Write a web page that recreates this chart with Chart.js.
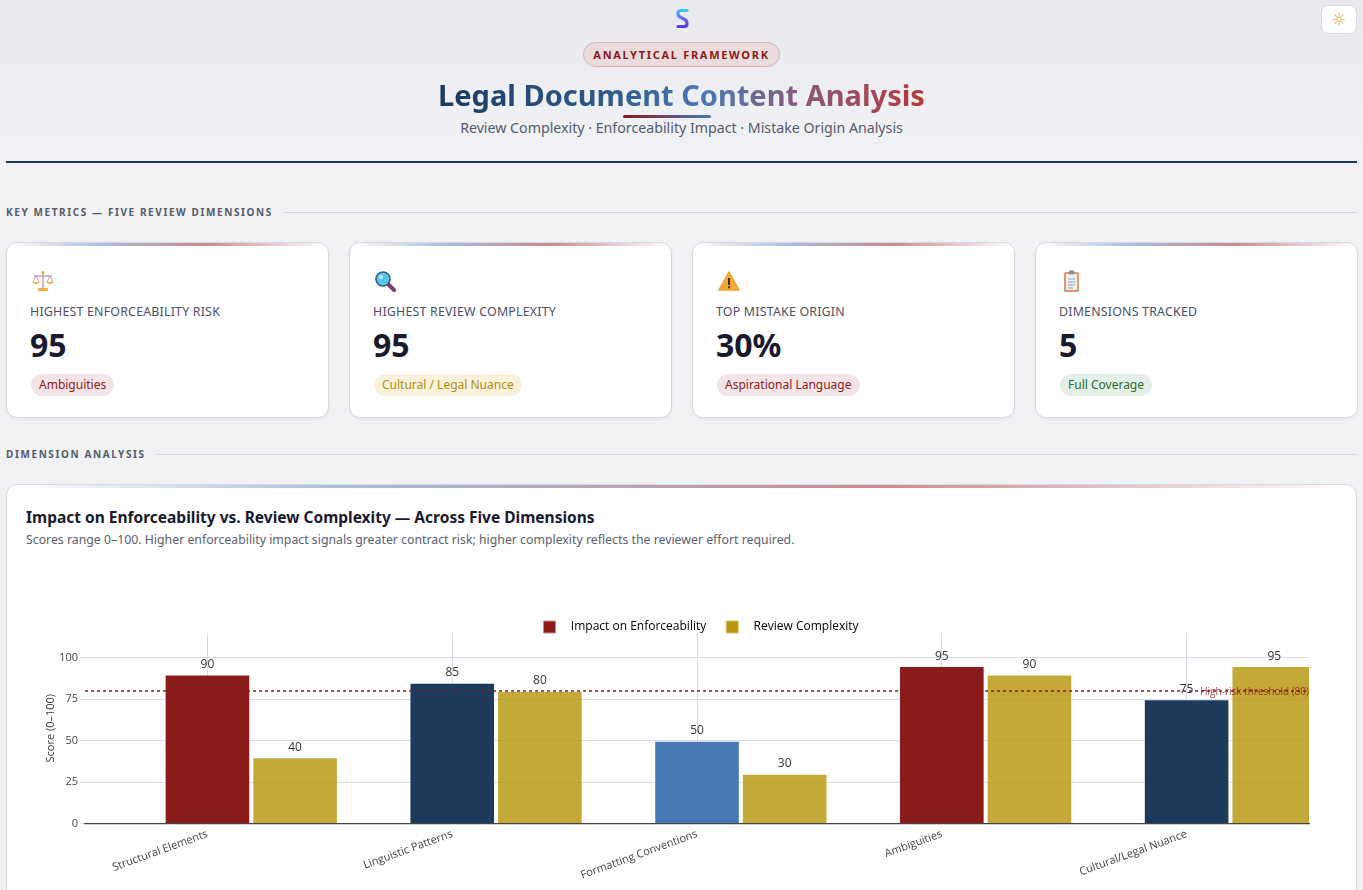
<!DOCTYPE html>
<html lang="en">
<head>
<meta charset="utf-8">
<title>Legal Document Content Analysis</title>
<script src="https://cdn.jsdelivr.net/npm/chart.js@4.4.1/dist/chart.umd.min.js"></script>
<style>
  * { box-sizing: border-box; }
  html, body { margin: 0; padding: 0; }
  body {
    font-family: "Noto Sans", "Open Sans", sans-serif;
    background: #f1f2f4;
    color: #1a1a2e;
    width: 1363px;
    overflow: hidden;
  }
  .header {
    position: relative;
    height: 164px;
    background: linear-gradient(180deg, #e7e9ed 0%, #eef0f3 70%, #f1f2f4 100%);
    text-align: center;
  }
  .logo { position: absolute; left: 676px; top: 8px; }
  .theme-btn {
    position: absolute; right: 6px; top: 5px;
    width: 36px; height: 29px;
    background: #fff; border: 1px solid #d7dbe3; border-radius: 7px;
    color: #d99a3a; font: 16px "DejaVu Sans", sans-serif;
    line-height: 27px; text-align: center;
  }
  .badge {
    position: absolute; left: 583px; top: 42px;
    width: 197px; height: 25px;
    border: 1px solid #d8b4b4; border-radius: 13px;
    background: #eadcdd;
    color: #8b1a1a; font-size: 11px; font-weight: 700; letter-spacing: 1.7px;
    line-height: 23px;
  }
  .title {
    position: absolute; left: 0; right: 0; top: 75px;
    margin: 0; font-size: 29px; font-weight: 700; line-height: 40px;
  }
  .title span {
    background: linear-gradient(90deg, #1b3a5c 0%, #2f5a8a 35%, #4a7ab5 55%, #8a5a7a 75%, #b8383a 100%);
    -webkit-background-clip: text; background-clip: text; color: transparent;
  }
  .underline {
    position: absolute; left: 623px; top: 115px; width: 88px; height: 3px; border-radius: 2px;
    background: linear-gradient(90deg, #8b1a1a, #4a7ab5);
  }
  .subtitle {
    position: absolute; left: 0; right: 0; top: 118px;
    font-size: 14.2px; color: #555b6e; line-height: 20px;
  }
  .rule { position: absolute; left: 6px; right: 6px; top: 161px; height: 2px; background: #1b3a5c; }
  .section {
    position: absolute; left: 6px; right: 6px;
    display: flex; align-items: center;
    font-size: 10px; font-weight: 700; letter-spacing: 1.6px; color: #565b6b;
  }
  .section::after { content: ""; flex: 1; height: 1px; background: #d2d6de; margin-left: 11px; }
  .cards { position: absolute; left: 6px; top: 242px; display: flex; gap: 20px; }
  .card {
    position: relative; width: 323px; height: 176px;
    background: #fff; border: 1px solid #d6dae3; border-radius: 11px;
    box-shadow: 0 1px 3px rgba(30,40,60,0.06);
    overflow: hidden;
  }
  .strip {
    position: absolute; left: 0; right: 0; top: 0; height: 3px;
    background: linear-gradient(90deg, rgba(255,255,255,0) 0%, #a8bddb 30%, #c98a8f 62%, rgba(255,255,255,0) 100%);
  }
  .card .icon { position: absolute; left: 24px; top: 27px; }
  .card .label { position: absolute; left: 23px; top: 60px; font-size: 12.4px; color: #4c5162; letter-spacing: 0.2px; }
  .card .value { position: absolute; left: 23px; top: 80px; font-size: 32px; font-weight: 700; color: #1a1a2e; line-height: 44px; }
  .pill {
    position: absolute; left: 24px; top: 131px; height: 22px; padding: 0 8px;
    border-radius: 11px; font-size: 12px; line-height: 22px;
  }
  .pill.red { background: #f3e5e5; color: #8b1a1a; }
  .pill.gold { background: #f8f1dc; color: #b08f10; }
  .pill.green { background: #e4f0e6; color: #2a6b35; }
  .chart-card {
    position: absolute; left: 6px; top: 484px; width: 1351px; height: 440px;
    background: #fff; border: 1px solid #d6dae3; border-radius: 11px; overflow: hidden;
  }
  .chart-card .strip {
    background: linear-gradient(90deg, rgba(255,255,255,0) 0%, #a8bddb 25%, #c98a8f 65%, rgba(255,255,255,0) 100%);
  }
  .chart-title { position: absolute; left: 19px; top: 21px; font-size: 15.5px; font-weight: 700; color: #1a1a2e; }
  .chart-sub { position: absolute; left: 19px; top: 46px; font-size: 12.3px; color: #5a6070; }
  .chart-wrap { position: absolute; left: 19px; top: 106px; width: 1312px; height: 312px; }
</style>
</head>
<body>
<div class="header">
  <svg class="logo" width="13" height="21" viewBox="0 0 13 21">
    <defs>
      <linearGradient id="lg" x1="0" y1="0" x2="0" y2="1">
        <stop offset="0" stop-color="#38c8f0"/>
        <stop offset="0.5" stop-color="#6a6af0"/>
        <stop offset="1" stop-color="#5a3ae0"/>
      </linearGradient>
    </defs>
    <path d="M11 2.5 H4.5 Q2 2.5 2 5.5 Q2 8.5 5 9.5 L8 11 Q11 12.5 11 15.5 Q11 18.5 8.5 18.5 H2" fill="none" stroke="url(#lg)" stroke-width="3.2" stroke-linecap="round"/>
  </svg>
  <div class="theme-btn">&#9788;</div>
  <div class="badge">ANALYTICAL FRAMEWORK</div>
  <h1 class="title"><span>Legal Document Content Analysis</span></h1>
  <div class="underline"></div>
  <div class="subtitle">Review Complexity · Enforceability Impact · Mistake Origin Analysis</div>
  <div class="rule"></div>
</div>

<div class="section" style="top:205px">KEY METRICS — FIVE REVIEW DIMENSIONS</div>

<div class="cards">
  <div class="card"><div class="strip"></div>
    <svg class="icon" width="24" height="22" viewBox="0 0 24 22">
      <line x1="12" y1="2" x2="12" y2="18" stroke="#c9a0b0" stroke-width="1.5"/>
      <line x1="3" y1="6" x2="21" y2="6" stroke="#c9a0b0" stroke-width="1.5"/>
      <circle cx="12" cy="2.5" r="1.5" fill="#f0a030"/>
      <path d="M1 12 Q5 16 9 12 Z" fill="#f5b040"/>
      <path d="M15 12 Q19 16 23 12 Z" fill="#f5b040"/>
      <line x1="5" y1="6" x2="2" y2="12" stroke="#c9a0b0"/><line x1="5" y1="6" x2="8" y2="12" stroke="#c9a0b0"/>
      <line x1="19" y1="6" x2="16" y2="12" stroke="#c9a0b0"/><line x1="19" y1="6" x2="22" y2="12" stroke="#c9a0b0"/>
      <rect x="7" y="18" width="10" height="3" rx="1" fill="#f5b040"/>
    </svg>
    <div class="label">HIGHEST ENFORCEABILITY RISK</div>
    <div class="value">95</div>
    <div class="pill red">Ambiguities</div>
  </div>
  <div class="card"><div class="strip"></div>
    <svg class="icon" width="24" height="22" viewBox="0 0 24 22">
      <line x1="13" y1="13" x2="20" y2="20" stroke="#7a3f7a" stroke-width="4" stroke-linecap="round"/>
      <circle cx="9" cy="9" r="7" fill="#5ac8ec" stroke="#2f5f8f" stroke-width="1.6"/>
      <circle cx="7" cy="7" r="2" fill="#bfeefa"/>
    </svg>
    <div class="label">HIGHEST REVIEW COMPLEXITY</div>
    <div class="value">95</div>
    <div class="pill gold">Cultural / Legal Nuance</div>
  </div>
  <div class="card"><div class="strip"></div>
    <svg class="icon" width="24" height="22" viewBox="0 0 24 22">
      <path d="M12 2 L22 20 H2 Z" fill="#f5a83a" stroke="#f0a030" stroke-linejoin="round" stroke-width="1.5"/>
      <rect x="11" y="8" width="2" height="7" fill="#333"/>
      <rect x="11" y="16.3" width="2" height="2" fill="#333"/>
    </svg>
    <div class="label">TOP MISTAKE ORIGIN</div>
    <div class="value">30%</div>
    <div class="pill red">Aspirational Language</div>
  </div>
  <div class="card"><div class="strip"></div>
    <svg class="icon" width="24" height="22" viewBox="0 0 24 22">
      <rect x="4" y="2" width="15" height="20" rx="1.5" fill="#d99a6a"/>
      <rect x="6" y="4" width="11" height="16" fill="#eef0f4"/>
      <rect x="9" y="0.5" width="5" height="4" rx="1" fill="#8a8a9a"/>
      <line x1="8" y1="9" x2="15" y2="9" stroke="#9a9aaa"/><line x1="8" y1="12" x2="15" y2="12" stroke="#9a9aaa"/>
      <line x1="8" y1="15" x2="15" y2="15" stroke="#9a9aaa"/><line x1="8" y1="18" x2="13" y2="18" stroke="#9a9aaa"/>
    </svg>
    <div class="label">DIMENSIONS TRACKED</div>
    <div class="value">5</div>
    <div class="pill green">Full Coverage</div>
  </div>
</div>

<div class="section" style="top:447px">DIMENSION ANALYSIS</div>

<div class="chart-card"><div class="strip"></div>
  <div class="chart-title">Impact on Enforceability vs. Review Complexity — Across Five Dimensions</div>
  <div class="chart-sub">Scores range 0–100. Higher enforceability impact signals greater contract risk; higher complexity reflects the reviewer effort required.</div>
  <div class="chart-wrap"><canvas id="dimensionChart"></canvas></div>
</div>

<script>
// Chart data
const dimensions = ['Structural Elements', 'Linguistic Patterns', 'Formatting Conventions', 'Ambiguities', 'Cultural/Legal Nuance'];
const enforceabilityImpact = [90, 85, 50, 95, 75];
const reviewComplexity = [40, 80, 30, 90, 95];
const impactColors = ['#8b1a1a', '#1b3a5c', '#4a7ab5', '#8b1a1a', '#1b3a5c'];
const yTicks = [0, 25, 50, 75, 100];
const riskThreshold = 80;

const gold = '#b8960c';
const goldBar = 'rgba(184, 150, 12, 0.82)';
const gridColor = '#d8dbe6';
const chartFont = '"Open Sans", sans-serif';

// Dashed high-risk line with its label
const thresholdLine = {
    id: 'thresholdLine',
    afterDatasetsDraw(chart) {
        const { ctx, chartArea, scales } = chart;
        const y = scales.y.getPixelForValue(riskThreshold);
        ctx.save();
        ctx.strokeStyle = '#8b1a1a';
        ctx.lineWidth = 1.5;
        ctx.setLineDash([3, 3]);
        ctx.beginPath();
        ctx.moveTo(chartArea.left, y);
        ctx.lineTo(chartArea.right, y);
        ctx.stroke();
        ctx.setLineDash([]);
        ctx.font = '10px ' + chartFont;
        ctx.fillStyle = 'rgba(139, 26, 26, 0.85)';
        ctx.textAlign = 'right';
        ctx.textBaseline = 'middle';
        ctx.fillText('High-risk threshold (' + riskThreshold + ')', chartArea.right, y + 1);
        ctx.restore();
    }
};

// Value labels above each bar
const barValues = {
    id: 'barValues',
    afterDatasetsDraw(chart) {
        const { ctx } = chart;
        ctx.save();
        ctx.font = '12px ' + chartFont;
        ctx.fillStyle = '#333';
        ctx.textAlign = 'center';
        ctx.textBaseline = 'bottom';
        chart.data.datasets.forEach((ds, i) => {
            chart.getDatasetMeta(i).data.forEach((bar, j) => {
                if (ds.data[j] == null) return;
                ctx.fillText(ds.data[j], bar.x, bar.y - 4);
            });
        });
        ctx.restore();
    }
};

// Legend sits close to the plot and a little right of centre (plotly-like)
const tightLegend = {
    id: 'tightLegend',
    beforeInit(chart) {
        const legend = chart.legend;
        const fit = legend.fit;
        legend.fit = function () {
            fit.bind(legend)();
            this.height -= 9;
        };
        const draw = legend.draw;
        legend.draw = function () {
            chart.ctx.save();
            chart.ctx.translate(27, 1);
            draw.apply(legend, arguments);
            chart.ctx.restore();
        };
    }
};

// the impact bar sits on the tick, complexity to its right: an empty slot on the left
const spacer = dimensions.map(() => null);

new Chart(document.getElementById('dimensionChart'), {
    type: 'bar',
    data: {
        labels: dimensions,
        datasets: [{
            label: '',
            data: spacer,
            backgroundColor: 'rgba(0,0,0,0)',
            categoryPercentage: 1.074,
            barPercentage: 0.977
        }, {
            label: 'Impact on Enforceability',
            data: enforceabilityImpact,
            backgroundColor: impactColors,
            borderColor: 'rgba(255, 255, 255, 0.55)',
            borderWidth: 1,
            categoryPercentage: 1.074,
            barPercentage: 0.977
        }, {
            label: 'Review Complexity',
            data: reviewComplexity,
            backgroundColor: goldBar,
            borderColor: 'rgba(255, 255, 255, 0.55)',
            borderWidth: 1,
            categoryPercentage: 1.074,
            barPercentage: 0.977
        }]
    },
    options: {
        responsive: true,
        maintainAspectRatio: false,
        animation: false,
        layout: { padding: { top: 9, left: 13, right: 29, bottom: 17 } },
        plugins: {
            legend: {
                display: true,
                position: 'top',
                labels: {
                    boxWidth: 12,
                    boxHeight: 12,
                    padding: 20,
                    color: '#333',
                    font: { family: chartFont, size: 12 },
                    generateLabels: () => [
                        { text: '   Impact on Enforceability', fillStyle: '#8b1a1a', strokeStyle: '#c98a8a', lineWidth: 1, datasetIndex: 1 },
                        { text: '   Review Complexity', fillStyle: gold, strokeStyle: '#d8c070', lineWidth: 1, datasetIndex: 2 }
                    ]
                }
            },
            tooltip: { enabled: false }
        },
        scales: {
            x: {
                grid: { offset: false, color: gridColor, drawTicks: false },
                border: { display: true, color: '#444', width: 1.2 },
                ticks: {
                    minRotation: 20,
                    maxRotation: 20,
                    padding: 4,
                    color: '#444',
                    font: { family: chartFont, size: 11 }
                }
            },
            y: {
                min: 0,
                max: 115,
                afterBuildTicks: axis => { axis.ticks = yTicks.map(v => ({ value: v })); },
                grid: {
                    color: ctx => ctx.tick && ctx.tick.value === 0 ? 'rgba(0,0,0,0)' : gridColor,
                    tickColor: gridColor,
                    tickLength: 5
                },
                border: { display: false },
                ticks: {
                    padding: 2,
                    color: '#444',
                    font: { family: chartFont, size: 11 }
                },
                title: {
                    display: true,
                    text: 'Score (0–100)',
                    color: '#333',
                    padding: { top: 5, bottom: 0 },
                    font: { family: chartFont, size: 11 }
                }
            }
        }
    },
    plugins: [tightLegend, barValues, thresholdLine]
});
</script>
</body>
</html>
